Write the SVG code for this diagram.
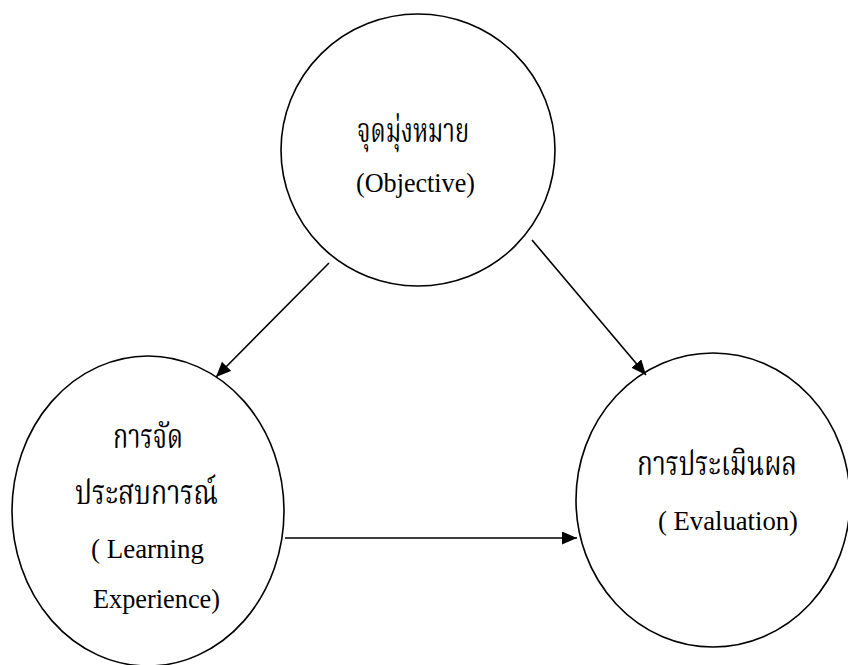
<svg xmlns="http://www.w3.org/2000/svg" width="848" height="665" viewBox="0 0 848 665">
<style>
.node{fill:none;stroke:#000;stroke-width:1.6}
.edge{stroke:#000;stroke-width:1.6;fill:none}
.lat{font-family:"Liberation Serif","Times New Roman",serif;font-size:26.5px;fill:#000}
.th{font-family:"Liberation Serif","Noto Serif Thai",serif;font-size:34px;fill:#000}
</style>
<defs>
<marker id="ah" markerUnits="userSpaceOnUse" markerWidth="16" markerHeight="14" refX="15" refY="6.5" orient="auto">
<path d="M0,0 L15,6.5 L0,13 z" fill="#000"/>
</marker>
</defs>
<rect width="848" height="665" fill="#fff"/>
<g id="objective">
<ellipse class="node" cx="418" cy="150" rx="137" ry="136"/>
<text class="th" x="357" y="142" textLength="112" lengthAdjust="spacingAndGlyphs">จุดมุ่งหมาย</text>
<text class="lat" x="356" y="192" textLength="119" lengthAdjust="spacingAndGlyphs">(Objective)</text>
</g>
<g id="learning">
<ellipse class="node" cx="148" cy="511" rx="136" ry="155"/>
<text class="th" x="113" y="448" textLength="70" lengthAdjust="spacingAndGlyphs">การจัด</text>
<text class="th" x="75" y="504" textLength="143" lengthAdjust="spacingAndGlyphs">ประสบการณ์</text>
<text class="lat" x="91" y="558" textLength="113" lengthAdjust="spacingAndGlyphs">( Learning</text>
<text class="lat" x="93" y="608" textLength="127" lengthAdjust="spacingAndGlyphs">Experience)</text>
</g>
<g id="evaluation">
<ellipse class="node" cx="713" cy="500" rx="137" ry="147"/>
<text class="th" x="637" y="475" textLength="160" lengthAdjust="spacingAndGlyphs">การประเมินผล</text>
<text class="lat" x="658" y="530" textLength="140" lengthAdjust="spacingAndGlyphs">( Evaluation)</text>
</g>
<g id="connectors">
<line class="edge" x1="329" y1="263" x2="216" y2="377" marker-end="url(#ah)"/>
<line class="edge" x1="532" y1="240" x2="646" y2="375" marker-end="url(#ah)"/>
<line class="edge" x1="285" y1="538" x2="577" y2="538" marker-end="url(#ah)"/>
</g>
</svg>
